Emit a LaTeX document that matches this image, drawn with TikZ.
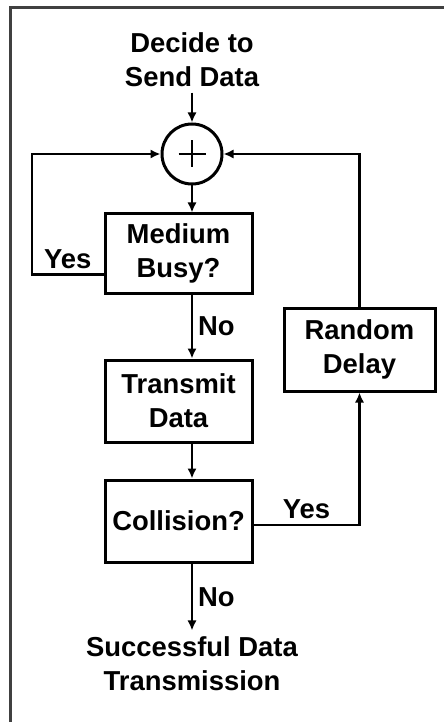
\documentclass[tikz,border=0pt]{standalone}
\usepackage{fontspec}
\setmainfont{Liberation Sans}
\usetikzlibrary{arrows.meta,calc}
\tikzset{go/.style={-{Latex[length=2.5mm,width=2.3mm]}},
  blk/.style={draw, line width=0.75mm, minimum width=36.75mm, minimum height=20.5mm, align=center, inner sep=0pt}}

\begin{document}
\begin{tikzpicture}[font=\fontsize{19.5}{24}\selectfont\bfseries, x=0.25mm, y=-0.25mm, line width=0.7mm]
  \useasboundingbox (0,0) rectangle (444,722);
  % frame, only top and left show
  \draw[black!75, line width=0.75mm] (10,722) -- (10,8) -- (444,8);
  % summing junction
  \node[align=center] (start) at (192,59.5) {Decide to\\Send Data};
  \node[draw, circle, line width=0.75mm, minimum size=15mm, inner sep=0pt] (sum) at (192,154) {};
  \draw ($(sum)+(-13.5,0)$) -- ($(sum)+(13.5,0)$) ($(sum)+(0,-13.5)$) -- ($(sum)+(0,13.5)$);
  % blocks
  \node[blk, minimum height=19.75mm] (busy) at (178.5,253.5) {Medium\\Busy?};
  \node[blk] (tx) at (178.5,401) {Transmit\\Data};
  \node[blk] (coll) at (178.5,521) {Collision?};
  \node[blk, minimum width=37.75mm, minimum height=20.75mm] (delay) at (359.5,349.5) {Random\\Delay};
  \node[align=center] (done) at (192,663.5) {Successful Data\\Transmission};
  \coordinate (yesL) at ($(busy.south west)+(0,-20)$);
  \coordinate (loopL) at (32,154);
  % main line
  \draw[go] (start) -- (sum);
  \draw[go] (sum) -- (sum |- busy.north);
  \draw[go] (sum |- busy.south) -- (sum |- tx.north) node[midway, right]{No};
  \draw[go] (sum |- tx.south) -- (sum |- coll.north);
  \draw[go] (sum |- coll.south) -- (sum |- done.north) node[midway, right]{No};
  % loops back
  \draw[go] (yesL) -| node[pos=.25, above]{Yes} (loopL) -- (sum.west);
  \draw[go] ([yshift=-1mm]coll.east) -| node[pos=.25, above]{Yes} (delay.south);
  \draw[go] (delay.north) |- (sum.east);
\end{tikzpicture}
\end{document}
